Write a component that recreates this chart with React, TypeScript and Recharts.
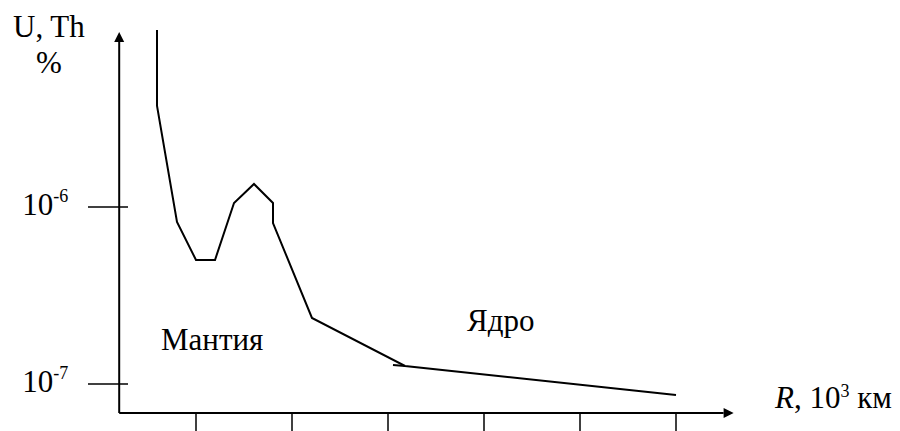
import React from 'react';
import { LineChart, Line, XAxis, YAxis, ReferenceLine } from 'recharts';

// R, 10^3 km (x) and U, Th content, % (y, log scale)
const curveR = [0.594, 0.594, 0.802, 1.0, 1.198, 1.396, 1.604, 1.802, 1.802, 2.208, 3.177, 6.0];
const curveU = [1e-5, 3.72e-6, 8.23e-7, 5.02e-7, 5.02e-7, 1.054e-6, 1.349e-6, 1.054e-6, 8.12e-7, 2.36e-7, 1.264e-7, 8.67e-8];
const stubR = [3.052, 3.177];
const stubU = [1.28e-7, 1.264e-7];
const xTicks = [1, 2, 3, 4, 5, 6];
const yTicks = [1e-7, 1e-6];
const yTickExp = ['-7', '-6'];

const xDomain: [number, number] = [0.2, 6.6];
const yDomain: [number, number] = [6.857e-8, 1e-5];

const curveData = curveR.map((r, i) => ({ x: r, y: curveU[i] }));
const stubData = stubR.map((r, i) => ({ x: r, y: stubU[i] }));

const FONT = '"Liberation Serif", "Times New Roman", serif';
const FS = 31;

const arrowShape = (props: any) => {
  const { x1, y1, x2, y2 } = props;
  const dx = x2 - x1;
  const dy = y2 - y1;
  const len = Math.sqrt(dx * dx + dy * dy) || 1;
  const ux = dx / len;
  const uy = dy / len;
  const L = 10;
  const W = 5;
  const bx = x2 - ux * L;
  const by = y2 - uy * L;
  const pts = `${x2},${y2} ${bx - uy * W},${by + ux * W} ${bx + uy * W},${by - ux * W}`;
  return (
    <g>
      <line x1={x1} y1={y1} x2={bx} y2={by} stroke="#000" strokeWidth={2} />
      <polygon points={pts} fill="#000" />
    </g>
  );
};

const plainShape = (props: any) => {
  const { x1, y1, x2, y2 } = props;
  return <line x1={x1} y1={y1} x2={x2} y2={y2} stroke="#000" strokeWidth={1.5} />;
};

const YTick = (props: any) => {
  const { x, y, payload } = props;
  const idx = yTicks.indexOf(payload.value);
  const exp = idx >= 0 ? yTickExp[idx] : '';
  return (
    <text x={x - 51} y={y + 8} textAnchor="end" fontFamily={FONT} fontSize={FS} fill="#000">
      <tspan>10</tspan>
      <tspan dy={-13} fontSize={18}>{exp}</tspan>
    </text>
  );
};

const NoTick = () => <g />;

export default function App() {
  return (
    <div style={{ position: 'absolute', left: 0, top: 0, width: 900, height: 431, background: '#fff' }}>
      <LineChart
        width={900}
        height={431}
        margin={{ top: 30, right: 166.4, bottom: 0, left: 0.2 }}
      >
        <XAxis
          type="number"
          dataKey="x"
          domain={xDomain}
          ticks={xTicks}
          allowDataOverflow
          height={18}
          tickSize={18}
          axisLine={false}
          tickLine={{ stroke: '#000', strokeWidth: 1.5 }}
          tick={NoTick}
        />
        <YAxis
          type="number"
          dataKey="y"
          scale="log"
          domain={yDomain}
          ticks={yTicks}
          allowDataOverflow
          width={119}
          tickSize={0}
          tickMargin={0}
          axisLine={false}
          tickLine={false}
          tick={YTick}
        />
        <ReferenceLine
          segment={[{ x: 0.2, y: yDomain[0] }, { x: 0.2, y: 9.74e-6 }]}
          ifOverflow="visible"
          shape={arrowShape}
        />
        <ReferenceLine
          segment={[{ x: 0.2, y: yDomain[0] }, { x: 6.6, y: yDomain[0] }]}
          ifOverflow="visible"
          shape={arrowShape}
        />
        <ReferenceLine
          segment={[{ x: -0.125, y: 1e-6 }, { x: 0.2917, y: 1e-6 }]}
          ifOverflow="visible"
          shape={plainShape}
        />
        <ReferenceLine
          segment={[{ x: -0.125, y: 1e-7 }, { x: 0.2917, y: 1e-7 }]}
          ifOverflow="visible"
          shape={plainShape}
        />
        <Line
          data={curveData}
          dataKey="y"
          type="linear"
          stroke="#000"
          strokeWidth={2}
          dot={false}
          isAnimationActive={false}
        />
        <Line
          data={stubData}
          dataKey="y"
          type="linear"
          stroke="#000"
          strokeWidth={2}
          dot={false}
          isAnimationActive={false}
        />
        <text x={13} y={37} fontFamily={FONT} fontSize={FS} fill="#000">U, Th</text>
        <text x={36} y={73} fontFamily={FONT} fontSize={FS} fill="#000">%</text>
        <text x={161} y={350} fontFamily={FONT} fontSize={FS} fill="#000">Мантия</text>
        <text x={467} y={331} fontFamily={FONT} fontSize={FS} fill="#000">Ядро</text>
        <text x={775} y={408} fontFamily={FONT} fontSize={FS} fill="#000">
          <tspan fontStyle="italic">R</tspan>
          <tspan>, 10</tspan>
          <tspan dy={-11} fontSize={18}>3</tspan>
          <tspan dy={11}> км</tspan>
        </text>
      </LineChart>
    </div>
  );
}
